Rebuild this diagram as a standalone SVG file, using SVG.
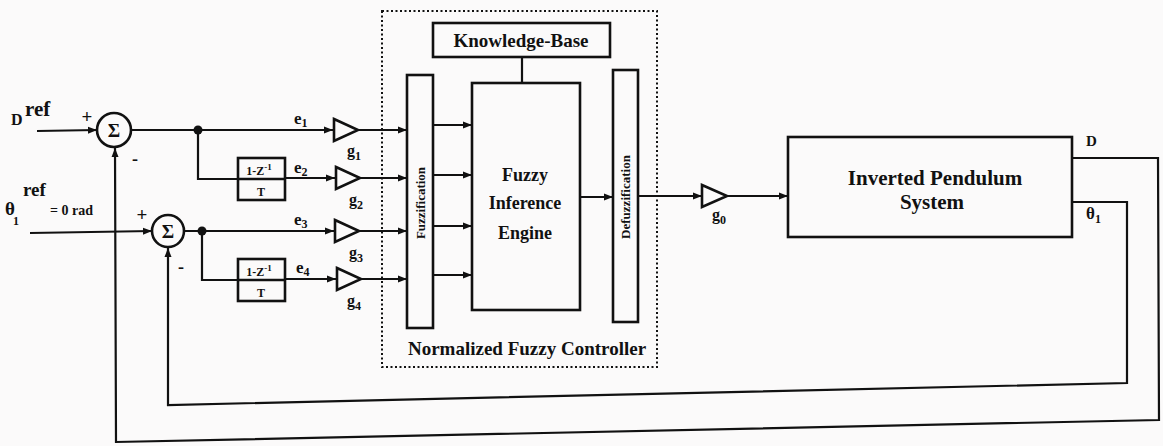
<svg xmlns="http://www.w3.org/2000/svg" width="1163" height="446" viewBox="0 0 1163 446">
<style>
.ln{fill:none;stroke:#111;stroke-width:2.2}
.bx{fill:none;stroke:#111;stroke-width:2.6}
.tx{font-family:"Liberation Serif",serif;font-weight:bold;fill:#111}
.dot{fill:#111}
.dash{fill:none;stroke:#111;stroke-width:2;stroke-dasharray:2 2.5}
</style>
<defs>
<marker id="ah" markerUnits="userSpaceOnUse" markerWidth="10" markerHeight="8" refX="9" refY="4" orient="auto">
<path d="M0,0.5 L9,4 L0,7.5 Z" fill="#111"/>
</marker>
</defs>
<rect width="1163" height="446" fill="#fbfafa"/>

<g id="controller-frame">
<rect x="382" y="11" width="275" height="356" class="dash"/>
<text class="tx" x="527" y="355" font-size="19" text-anchor="middle">Normalized Fuzzy Controller</text>
</g>

<g id="input-D">
<text class="tx" x="11" y="125" font-size="16" font-weight="normal">D</text>
<text class="tx" x="25" y="116" font-size="21">ref</text>
</g>
<g id="input-theta">
<text class="tx" x="5" y="215" font-size="19">θ</text>
<text class="tx" x="13" y="225" font-size="12">1</text>
<text class="tx" x="23" y="196" font-size="19">ref</text>
<text class="tx" x="50" y="215" font-size="14">= 0 rad</text>
</g>

<g id="sum1">
<circle cx="114" cy="130" r="17" class="bx"/>
<text class="tx" x="114" y="137" font-size="19" text-anchor="middle">Σ</text>
<text class="tx" x="87" y="123" font-size="19" text-anchor="middle">+</text>
<text class="tx" x="135" y="165" font-size="18" text-anchor="middle">-</text>
</g>
<g id="sum2">
<circle cx="168" cy="231" r="16" class="bx"/>
<text class="tx" x="168" y="238" font-size="19" text-anchor="middle">Σ</text>
<text class="tx" x="142" y="221" font-size="19" text-anchor="middle">+</text>
<text class="tx" x="181" y="273" font-size="18" text-anchor="middle">-</text>
</g>

<g id="delay1">
<rect x="238" y="158" width="47" height="42" class="bx"/>
<line x1="238" y1="179" x2="285" y2="179" class="bx"/>
<text class="tx" x="259" y="175" font-size="12" text-anchor="middle">1-Z<tspan font-size="9" dy="-5">-1</tspan></text>
<text class="tx" x="261" y="196" font-size="12" text-anchor="middle">T</text>
</g>
<g id="delay2">
<rect x="238" y="259" width="47" height="42" class="bx"/>
<line x1="238" y1="280" x2="285" y2="280" class="bx"/>
<text class="tx" x="259" y="276" font-size="12" text-anchor="middle">1-Z<tspan font-size="9" dy="-5">-1</tspan></text>
<text class="tx" x="261" y="297" font-size="12" text-anchor="middle">T</text>
</g>

<g id="gain1">
<path d="M334,119 L358,130 L334,141 Z" class="bx"/>
<text class="tx" x="347" y="156" font-size="16">g<tspan font-size="12" dy="4">1</tspan></text>
</g>
<g id="gain2">
<path d="M336,167 L360,178 L336,189 Z" class="bx"/>
<text class="tx" x="349" y="205" font-size="16">g<tspan font-size="12" dy="4">2</tspan></text>
</g>
<g id="gain3">
<path d="M335,220 L359,231 L335,242 Z" class="bx"/>
<text class="tx" x="349" y="258" font-size="16">g<tspan font-size="12" dy="4">3</tspan></text>
</g>
<g id="gain4">
<path d="M337,268 L361,279 L337,290 Z" class="bx"/>
<text class="tx" x="347" y="306" font-size="16">g<tspan font-size="12" dy="4">4</tspan></text>
</g>
<g id="gain0">
<path d="M702,185 L727,196 L702,207 Z" class="bx"/>
<text class="tx" x="712" y="220" font-size="16">g<tspan font-size="12" dy="4">0</tspan></text>
</g>

<g id="labels-e">
<text class="tx" x="294" y="124" font-size="17">e<tspan font-size="12" dy="3">1</tspan></text>
<text class="tx" x="294" y="173" font-size="17">e<tspan font-size="12" dy="3">2</tspan></text>
<text class="tx" x="294" y="225" font-size="17">e<tspan font-size="12" dy="3">3</tspan></text>
<text class="tx" x="296" y="273" font-size="17">e<tspan font-size="12" dy="3">4</tspan></text>
</g>

<g id="knowledge-base">
<rect x="433" y="23" width="177" height="34" class="bx"/>
<text class="tx" x="521" y="47" font-size="19" text-anchor="middle">Knowledge-Base</text>
</g>
<g id="fuzzification">
<rect x="407" y="75" width="26" height="253" class="bx"/>
<text class="tx" x="0" y="0" font-size="13" text-anchor="middle" transform="translate(425,203) rotate(-90)">Fuzzification</text>
</g>
<g id="inference-engine">
<rect x="472" y="83" width="108" height="227" class="bx"/>
<text class="tx" x="525" y="181" font-size="18" text-anchor="middle">Fuzzy</text>
<text class="tx" x="525" y="209" font-size="18" text-anchor="middle">Inference</text>
<text class="tx" x="525" y="239" font-size="18" text-anchor="middle">Engine</text>
</g>
<g id="defuzzification">
<rect x="613" y="70" width="25" height="252" class="bx"/>
<text class="tx" x="0" y="0" font-size="13" text-anchor="middle" transform="translate(630,197) rotate(-90)">Defuzzification</text>
</g>
<g id="pendulum">
<rect x="788" y="137" width="284" height="100" class="bx"/>
<text class="tx" x="935" y="185" font-size="21" text-anchor="middle">Inverted Pendulum</text>
<text class="tx" x="932" y="209" font-size="21" text-anchor="middle">System</text>
<text class="tx" x="1086" y="146" font-size="15" font-weight="normal">D</text>
<text class="tx" x="1086" y="219" font-size="17">θ<tspan font-size="12" dy="4">1</tspan></text>
</g>

<g id="connectors">
<line x1="37" y1="131" x2="97" y2="130" class="ln" marker-end="url(#ah)"/>
<line x1="30" y1="233" x2="152" y2="231" class="ln" marker-end="url(#ah)"/>
<line x1="131" y1="130" x2="333" y2="130" class="ln" marker-end="url(#ah)"/>
<polyline points="198,130 198,179 238,179" class="ln"/>
<line x1="285" y1="178" x2="335" y2="178" class="ln" marker-end="url(#ah)"/>
<line x1="184" y1="231" x2="334" y2="231" class="ln" marker-end="url(#ah)"/>
<polyline points="202,231 202,280 238,280" class="ln"/>
<line x1="285" y1="279" x2="336" y2="279" class="ln" marker-end="url(#ah)"/>
<line x1="358" y1="130" x2="407" y2="130" class="ln" marker-end="url(#ah)"/>
<line x1="360" y1="178" x2="407" y2="178" class="ln" marker-end="url(#ah)"/>
<line x1="359" y1="231" x2="407" y2="231" class="ln" marker-end="url(#ah)"/>
<line x1="361" y1="279" x2="407" y2="279" class="ln" marker-end="url(#ah)"/>
<line x1="433" y1="125" x2="472" y2="125" class="ln" marker-end="url(#ah)"/>
<line x1="433" y1="175" x2="472" y2="175" class="ln" marker-end="url(#ah)"/>
<line x1="433" y1="226" x2="472" y2="226" class="ln" marker-end="url(#ah)"/>
<line x1="433" y1="275" x2="472" y2="275" class="ln" marker-end="url(#ah)"/>
<line x1="522" y1="57" x2="522" y2="83" class="ln"/>
<line x1="580" y1="197" x2="613" y2="197" class="ln" marker-end="url(#ah)"/>
<line x1="638" y1="196" x2="702" y2="196" class="ln" marker-end="url(#ah)"/>
<line x1="727" y1="196" x2="788" y2="196" class="ln" marker-end="url(#ah)"/>
<polyline points="1072,158 1158,158 1159,420 116,442 115,148" class="ln" marker-end="url(#ah)"/>
<polyline points="1072,202 1127,202 1127,383 168,405 168,248" class="ln" marker-end="url(#ah)"/>
<circle cx="198" cy="130" r="4.5" class="dot"/>
<circle cx="202" cy="231" r="4.5" class="dot"/>
</g>
</svg>
